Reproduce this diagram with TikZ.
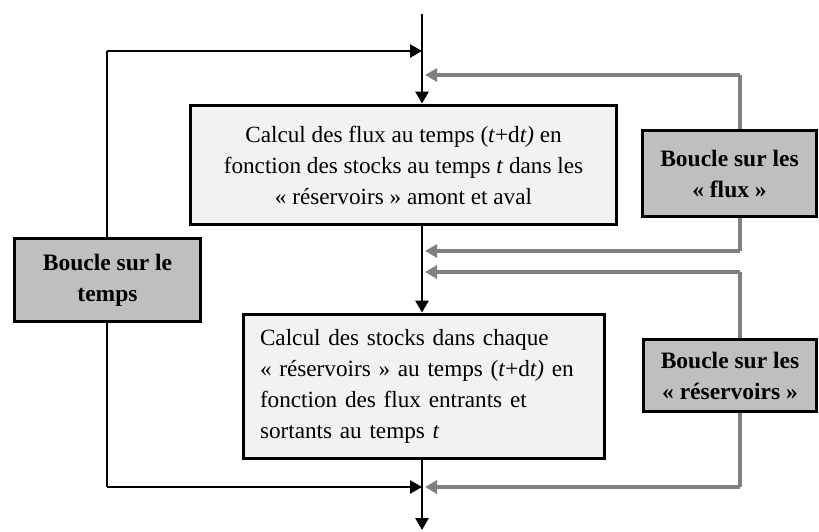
\documentclass[tikz,border=0pt]{standalone}
\usepackage{fontspec}
\setmainfont{Liberation Serif}
\usetikzlibrary{arrows.meta}
\definecolor{boxlight}{HTML}{F2F2F2}
\definecolor{boxgray}{HTML}{BFBFBF}
\definecolor{loopgray}{HTML}{808080}
\begin{document}
\begin{tikzpicture}[x=1pt,y=-1pt,
  mainbox/.style={draw=black,line width=3.8pt,fill=boxlight,inner sep=0pt,
    font=\fontsize{23.2}{31}\selectfont},
  loopbox/.style={draw=black,line width=3.8pt,fill=boxgray,inner sep=0pt,align=center,
    font=\fontsize{23.5}{31}\selectfont\bfseries},
  blk/.style={line width=2.7pt,draw=black},
  blkarrow/.style={blk,-{Triangle[length=12pt,width=13pt]}},
  gry/.style={line width=3.2pt,draw=loopgray},
  gryarrow/.style={gry,-{Triangle[length=12pt,width=13pt]}}]
\useasboundingbox (0,0) rectangle (819,532);

% coordinates
\coordinate (top) at (422,14);
\coordinate (j1) at (422,51);
\coordinate (jf1) at (425,75);
\coordinate (jf2) at (425,251);
\coordinate (jr1) at (425,272);
\coordinate (jr2) at (425,487);
\coordinate (j4) at (422,487);
\coordinate (bot) at (422,530);
\coordinate (lt) at (107,51);
\coordinate (lb) at (107,487);
\coordinate (rf1) at (740,75);
\coordinate (rf2) at (740,251);
\coordinate (rr1) at (740,272);
\coordinate (rr2) at (740,487);

% left time loop
\draw[blk] (lb) -- (lt);
\draw[blkarrow] (lt) -- (j1);
\draw[blkarrow] (lb) -- (j4);

% gray loops
\draw[gry] (rf1) -- (rf2);
\draw[gry] (rr1) -- (rr2);
\draw[gryarrow] (rf1) -- (jf1);
\draw[gryarrow] (rf2) -- (jf2);
\draw[gryarrow] (rr1) -- (jr1);
\draw[gryarrow] (rr2) -- (jr2);

% boxes
\node[mainbox,minimum width=426pt,minimum height=119pt,align=center] (b1) at (403.5,165)
  {Calcul des flux au temps (\textit{t}+d\textit{t)} en\\
   fonction des stocks au temps \textit{t} dans les\\
   « réservoirs » amont et aval};
\node[mainbox,minimum width=361pt,minimum height=144pt,align=left,
  text width=328pt] (b2) at (424,386.5)
  {Calcul des stocks dans chaque\\
   « réservoirs » au temps (\textit{t}+d\textit{t)} en\\
   fonction des flux entrants et\\
   sortants au temps \textit{t}};
\node[loopbox,minimum width=174pt,minimum height=86pt] (lf) at (729.5,173.5)
  {Boucle sur les\\« flux »};
\node[loopbox,minimum width=173pt,minimum height=72pt] (lr) at (730,375.5)
  {Boucle sur les\\« réservoirs »};
\node[loopbox,minimum width=186pt,minimum height=83pt] (lt2) at (107.5,280)
  {Boucle sur le\\temps};

% main flow
\draw[blk] (top) -- (j1);
\draw[blkarrow] (j1) -- (j1 |- b1.north);
\draw[blkarrow] (j1 |- b1.south) -- (j1 |- b2.north);
\draw[blkarrow] (j1 |- b2.south) -- (bot);
\end{tikzpicture}
\end{document}
